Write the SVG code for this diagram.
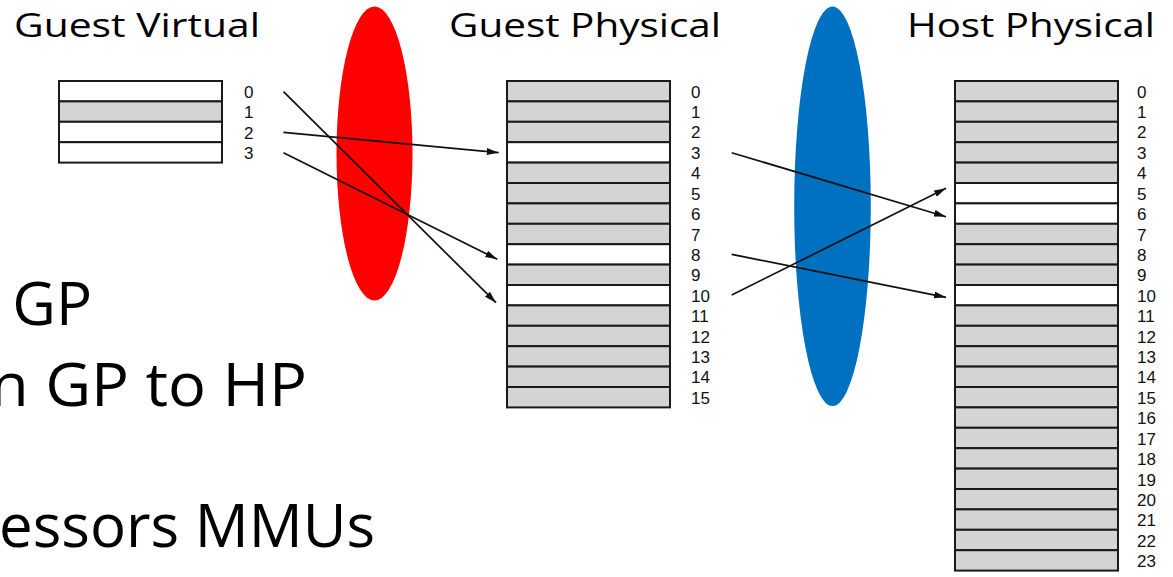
<svg xmlns="http://www.w3.org/2000/svg" width="1173" height="577" viewBox="0 0 1173 577">
<style>
.title{font-family:"Open Sans","Noto Sans",sans-serif;font-size:33px;fill:#000}
.big{font-family:"Open Sans","Noto Sans",sans-serif;font-size:60px;fill:#000;text-anchor:end}
.num{font-family:"Liberation Sans",Arial,sans-serif;font-size:17px;fill:#111}
.g{fill:#d4d4d4;stroke:#1a1a1a;stroke-width:2}
.w{fill:#fff;stroke:#1a1a1a;stroke-width:2}
.arr{stroke:#111;stroke-width:1.7;fill:none;marker-end:url(#ah)}
</style>
<defs>
<marker id="ah" markerUnits="userSpaceOnUse" markerWidth="13" markerHeight="8" refX="12" refY="3.5" orient="auto">
<path d="M0,0 L12,3.5 L0,7 z" fill="#111"/>
</marker>
</defs>
<rect width="1173" height="577" fill="#fff"/>
<g id="mmu-red"><ellipse cx="374.5" cy="153.5" rx="38" ry="147" fill="#ff0000"/></g>
<g id="mmu-blue"><ellipse cx="832.5" cy="206.3" rx="38.3" ry="199.7" fill="#0070c0"/></g>
<g id="left-text">
<text class="big" x="92" y="325">GP</text>
<text class="big" x="307" y="406" textLength="317" lengthAdjust="spacingAndGlyphs">n GP to HP</text>
<text class="big" x="375" y="547">essors MMUs</text>
</g>
<g id="guest-virtual">
<text class="title" x="14" y="37" textLength="246" lengthAdjust="spacingAndGlyphs">Guest Virtual</text>
<rect class="w" x="59" y="81" width="163" height="20.4"/>
<rect class="g" x="59" y="101.4" width="163" height="20.4"/>
<rect class="w" x="59" y="121.8" width="163" height="20.4"/>
<rect class="w" x="59" y="142.2" width="163" height="20.4"/>
<text class="num" x="244" y="98">0</text>
<text class="num" x="244" y="118">1</text>
<text class="num" x="244" y="138.5">2</text>
<text class="num" x="244" y="159">3</text>
</g>
<g id="guest-physical">
<text class="title" x="449" y="37" textLength="272" lengthAdjust="spacingAndGlyphs">Guest Physical</text>
<rect class="g" x="507" y="81" width="163" height="20.4"/>
<rect class="g" x="507" y="101.4" width="163" height="20.4"/>
<rect class="g" x="507" y="121.8" width="163" height="20.4"/>
<rect class="w" x="507" y="142.2" width="163" height="20.4"/>
<rect class="g" x="507" y="162.6" width="163" height="20.4"/>
<rect class="g" x="507" y="183" width="163" height="20.4"/>
<rect class="g" x="507" y="203.4" width="163" height="20.4"/>
<rect class="g" x="507" y="223.8" width="163" height="20.4"/>
<rect class="w" x="507" y="244.2" width="163" height="20.4"/>
<rect class="g" x="507" y="264.6" width="163" height="20.4"/>
<rect class="w" x="507" y="285" width="163" height="20.4"/>
<rect class="g" x="507" y="305.4" width="163" height="20.4"/>
<rect class="g" x="507" y="325.8" width="163" height="20.4"/>
<rect class="g" x="507" y="346.2" width="163" height="20.4"/>
<rect class="g" x="507" y="366.6" width="163" height="20.4"/>
<rect class="g" x="507" y="387" width="163" height="20.4"/>
<text class="num" x="691" y="97.5">0</text>
<text class="num" x="691" y="117.9">1</text>
<text class="num" x="691" y="138.3">2</text>
<text class="num" x="691" y="158.8">3</text>
<text class="num" x="691" y="179.2">4</text>
<text class="num" x="691" y="199.6">5</text>
<text class="num" x="691" y="220">6</text>
<text class="num" x="691" y="240.5">7</text>
<text class="num" x="691" y="260.9">8</text>
<text class="num" x="691" y="281.3">9</text>
<text class="num" x="691" y="301.7">10</text>
<text class="num" x="691" y="322.1">11</text>
<text class="num" x="691" y="342.6">12</text>
<text class="num" x="691" y="363">13</text>
<text class="num" x="691" y="383.4">14</text>
<text class="num" x="691" y="403.8">15</text>
</g>
<g id="host-physical">
<text class="title" x="907" y="37" textLength="248" lengthAdjust="spacingAndGlyphs">Host Physical</text>
<rect class="g" x="955" y="81" width="163" height="20.4"/>
<rect class="g" x="955" y="101.4" width="163" height="20.4"/>
<rect class="g" x="955" y="121.8" width="163" height="20.4"/>
<rect class="g" x="955" y="142.2" width="163" height="20.4"/>
<rect class="g" x="955" y="162.6" width="163" height="20.4"/>
<rect class="w" x="955" y="183" width="163" height="20.4"/>
<rect class="w" x="955" y="203.4" width="163" height="20.4"/>
<rect class="g" x="955" y="223.8" width="163" height="20.4"/>
<rect class="g" x="955" y="244.2" width="163" height="20.4"/>
<rect class="g" x="955" y="264.6" width="163" height="20.4"/>
<rect class="w" x="955" y="285" width="163" height="20.4"/>
<rect class="g" x="955" y="305.4" width="163" height="20.4"/>
<rect class="g" x="955" y="325.8" width="163" height="20.4"/>
<rect class="g" x="955" y="346.2" width="163" height="20.4"/>
<rect class="g" x="955" y="366.6" width="163" height="20.4"/>
<rect class="g" x="955" y="387" width="163" height="20.4"/>
<rect class="g" x="955" y="407.4" width="163" height="20.4"/>
<rect class="g" x="955" y="427.8" width="163" height="20.4"/>
<rect class="g" x="955" y="448.2" width="163" height="20.4"/>
<rect class="g" x="955" y="468.6" width="163" height="20.4"/>
<rect class="g" x="955" y="489" width="163" height="20.4"/>
<rect class="g" x="955" y="509.4" width="163" height="20.4"/>
<rect class="g" x="955" y="529.8" width="163" height="20.4"/>
<rect class="g" x="955" y="550.2" width="163" height="20.4"/>
<text class="num" x="1137" y="97.5">0</text>
<text class="num" x="1137" y="117.9">1</text>
<text class="num" x="1137" y="138.3">2</text>
<text class="num" x="1137" y="158.8">3</text>
<text class="num" x="1137" y="179.2">4</text>
<text class="num" x="1137" y="199.6">5</text>
<text class="num" x="1137" y="220">6</text>
<text class="num" x="1137" y="240.5">7</text>
<text class="num" x="1137" y="260.9">8</text>
<text class="num" x="1137" y="281.3">9</text>
<text class="num" x="1137" y="301.7">10</text>
<text class="num" x="1137" y="322.1">11</text>
<text class="num" x="1137" y="342.6">12</text>
<text class="num" x="1137" y="363">13</text>
<text class="num" x="1137" y="383.4">14</text>
<text class="num" x="1137" y="403.8">15</text>
<text class="num" x="1137" y="424.3">16</text>
<text class="num" x="1137" y="444.7">17</text>
<text class="num" x="1137" y="465.1">18</text>
<text class="num" x="1137" y="485.5">19</text>
<text class="num" x="1137" y="506">20</text>
<text class="num" x="1137" y="526.4">21</text>
<text class="num" x="1137" y="546.8">22</text>
<text class="num" x="1137" y="567.2">23</text>
</g>
<g id="connectors">
<line class="arr" x1="283.5" y1="91.7" x2="496" y2="302.7"/>
<line class="arr" x1="283.5" y1="132.3" x2="498.7" y2="152.7"/>
<line class="arr" x1="283.5" y1="152.7" x2="497.3" y2="259.3"/>
<line class="arr" x1="731.7" y1="152.7" x2="946" y2="216.7"/>
<line class="arr" x1="731.7" y1="254.3" x2="946" y2="297.3"/>
<line class="arr" x1="731.7" y1="295" x2="946" y2="188.3"/>
</g>
</svg>
